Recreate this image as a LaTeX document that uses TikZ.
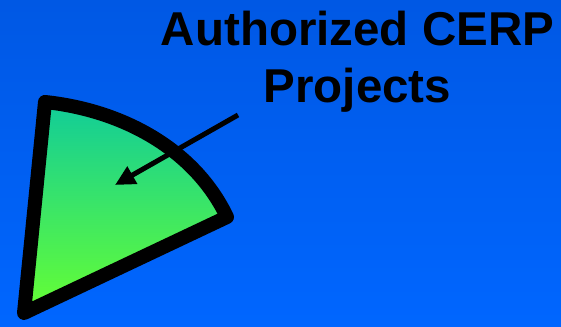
\documentclass[tikz,border=0pt]{standalone}
\usepackage{fontspec}
\setmainfont{Liberation Sans}
\usepackage{xcolor}
\definecolor{bgTop}{HTML}{0058E4}
\definecolor{bgBot}{HTML}{0066FF}
\definecolor{wTop}{HTML}{11CC99}
\definecolor{wBot}{HTML}{66FF33}
\definecolor{ink}{HTML}{000000}
\usetikzlibrary{arrows.meta}

\begin{document}
\begin{tikzpicture}[
  x=1pt,y=-1pt,
  every node/.style={align=center},
  title/.style={font=\fontsize{47.5}{57}\selectfont\bfseries,text=ink,inner sep=0pt},
  wedge/.style={draw=ink,line width=14pt,line join=round,top color=wTop,bottom color=wBot},
  pointer/.style={-{Triangle[length=20pt,width=19pt]},draw=ink,line width=5pt}]

% --- background ---
\shade[top color=bgTop,bottom color=bgBot] (0,0) rectangle (561,326);
\useasboundingbox (0,0) rectangle (561,326);

% --- wedge corners ---
\coordinate (apex)  at (24,313);
\coordinate (wtop)  at (45,102);
\coordinate (wright) at (227,217);

% --- wedge ---
\path[wedge] (apex) -- (wtop) .. controls (121,110) and (194,148) .. (wright) -- cycle;

% --- label ---
\node[title] (lbl) at (357.5,62) {Authorized CERP\\Projects};

% --- pointer ---
\coordinate (ptail) at (238,115);
\coordinate (ptip)  at (115,185);
\draw[pointer] (ptail) -- (ptip);
\end{tikzpicture}
\end{document}
